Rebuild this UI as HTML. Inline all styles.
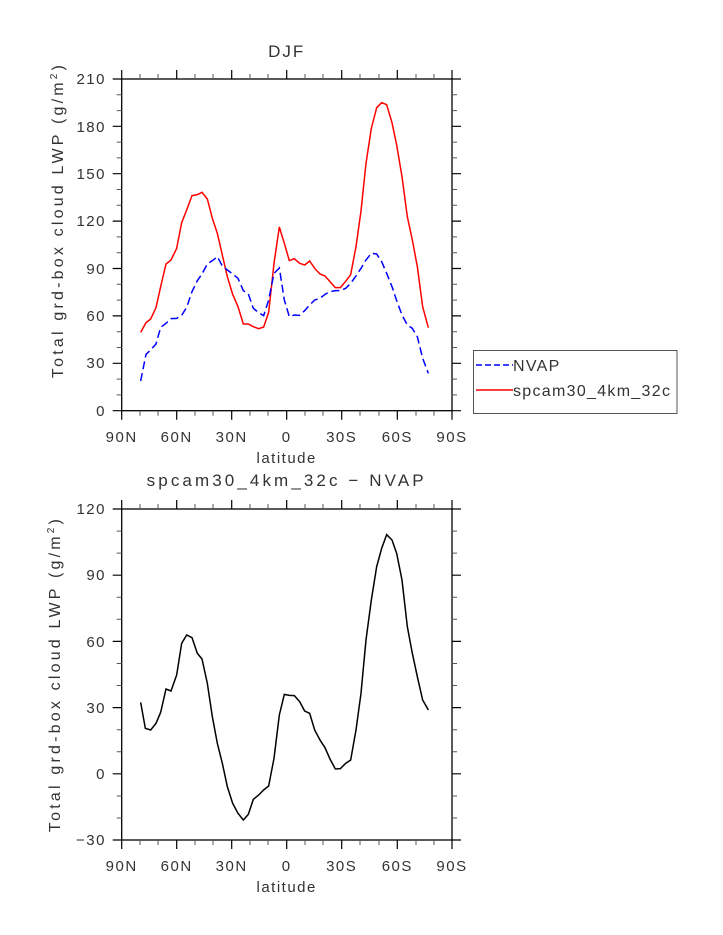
<!DOCTYPE html>
<html><head><style>
body{margin:0;background:#fff;}
svg{display:block;font-family:"Liberation Sans",sans-serif;}
text{fill:#333;font-size:15px;letter-spacing:1.5px;}
</style></head><body>
<svg width="723" height="935" viewBox="0 0 723 935">
<rect x="121.7" y="79" width="330.3" height="331.7" fill="none" stroke="#000" stroke-width="1.3"/>
<g stroke="#000" stroke-width="1.2">
<path d="M121.7 410.7v9M176.7 410.7v9M231.7 410.7v9M286.7 410.7v9M341.7 410.7v9M397.3 410.7v9M452 410.7v9
M121.7 79v-9M176.7 79v-9M231.7 79v-9M286.7 79v-9M341.7 79v-9M397.3 79v-9M452 79v-9"/>
<path d="M121.7 410.7h-9M121.7 363.3h-9M121.7 315.9h-9M121.7 268.5h-9M121.7 221.1h-9M121.7 173.7h-9M121.7 126.3h-9M121.7 79h-9
M452 410.7h9M452 363.3h9M452 315.9h9M452 268.5h9M452 221.1h9M452 173.7h9M452 126.3h9M452 79h9"/>
</g>
<g stroke="#555" stroke-width="1">
<path d="M140 410.7v5M158 410.7v5M195 410.7v5M213 410.7v5M250 410.7v5M268 410.7v5M305 410.7v5M323 410.7v5M360 410.7v5M379 410.7v5M416 410.7v5M434 410.7v5
M140 79v-5M158 79v-5M195 79v-5M213 79v-5M250 79v-5M268 79v-5M305 79v-5M323 79v-5M360 79v-5M379 79v-5M416 79v-5M434 79v-5"/>
<path d="M121.7 394.9h-5M121.7 379.1h-5M121.7 347.5h-5M121.7 331.7h-5M121.7 300.1h-5M121.7 284.3h-5M121.7 252.7h-5M121.7 236.9h-5M121.7 205.3h-5M121.7 189.5h-5M121.7 157.9h-5M121.7 142.1h-5M121.7 110.6h-5M121.7 94.8h-5
M452 394.9h5M452 379.1h5M452 347.5h5M452 331.7h5M452 300.1h5M452 284.3h5M452 252.7h5M452 236.9h5M452 205.3h5M452 189.5h5M452 157.9h5M452 142.1h5M452 110.6h5M452 94.8h5"/>
</g>
<g text-anchor="end">
<text x="106" y="416">0</text><text x="106" y="368">30</text><text x="106" y="321">60</text><text x="106" y="274">90</text>
<text x="106" y="226">120</text><text x="106" y="179">150</text><text x="106" y="132">180</text><text x="106" y="84">210</text>
</g>
<g text-anchor="middle">
<text x="121.7" y="442">90N</text><text x="176.7" y="442">60N</text><text x="231.7" y="442">30N</text><text x="286.7" y="442">0</text>
<text x="341.7" y="442">30S</text><text x="397.3" y="442">60S</text><text x="452" y="442">90S</text>
<text x="286.7" y="463">latitude</text>
<text x="286.7" y="57" style="font-size:17px;letter-spacing:2px">DJF</text>
<text transform="translate(63,220) rotate(-90)" style="font-size:16px;letter-spacing:3.2px">Total grd-box cloud LWP (g/m<tspan dy="-6" style="font-size:10px">2</tspan><tspan dy="6">)</tspan></text>
</g>
<g transform="translate(110,70) scale(0.33333)" fill="none" stroke-width="4.5">
<polyline stroke="#ff0000" points="92,787 108,758 122,747 138,713 152,650 168,582 183,570 200,535 215,458 230,420 246,377 262,374 276,367 292,387 307,445 322,490 337,555 352,620 368,673 384,710 400,762 415,762 430,770 446,776 461,771 476,727 492,580 508,471 523,520 538,572 553,566 569,580 584,585 599,573 614,595 630,612 645,618 660,635 676,653 691,653 707,634 722,614 738,530 753,423 768,280 784,175 800,113 815,98 830,104 846,158 860,225 876,320 892,440 907,510 922,590 938,710 955,773"/>
<polyline stroke="#0000ff" stroke-dasharray="24,12" points="92,933 108,853 122,840 138,822 152,772 168,760 183,746 200,745 215,736 230,712 246,665 262,632 276,612 292,582 307,572 322,560 337,588 352,600 368,612 384,625 400,662 415,672 430,715 446,728 461,737 476,690 492,610 508,594 523,690 538,740 553,735 569,736 584,722 599,705 614,690 630,685 645,673 660,665 676,662 691,662 707,655 722,640 738,618 753,595 768,570 784,550 800,552 815,575 830,610 846,650 860,692 876,735 892,765 907,775 922,800 938,865 955,910"/>
</g>
<rect x="473.5" y="350.5" width="203.5" height="63" fill="none" stroke="#555" stroke-width="1"/>
<line x1="476" y1="365" x2="513" y2="365" stroke="#0000ff" stroke-width="1.5" stroke-dasharray="6,3"/>
<line x1="476" y1="390" x2="513" y2="390" stroke="#ff0000" stroke-width="1.5"/>
<text x="513" y="371" style="font-size:16px;letter-spacing:1.3px">NVAP</text>
<text x="513" y="396" style="font-size:16px;letter-spacing:1.3px">spcam30_4km_32c</text>

<rect x="121.7" y="509" width="330.3" height="331" fill="none" stroke="#000" stroke-width="1.3"/>
<g stroke="#000" stroke-width="1.2">
<path d="M121.7 840v9M176.7 840v9M231.7 840v9M286.7 840v9M341.7 840v9M397.3 840v9M452 840v9
M121.7 509v-9M176.7 509v-9M231.7 509v-9M286.7 509v-9M341.7 509v-9M397.3 509v-9M452 509v-9"/>
<path d="M121.7 840h-9M121.7 773.8h-9M121.7 707.6h-9M121.7 641.4h-9M121.7 575.2h-9M121.7 509h-9
M452 840h9M452 773.8h9M452 707.6h9M452 641.4h9M452 575.2h9M452 509h9"/>
</g>
<g stroke="#555" stroke-width="1">
<path d="M140 840v5M158 840v5M195 840v5M213 840v5M250 840v5M268 840v5M305 840v5M323 840v5M360 840v5M379 840v5M416 840v5M434 840v5
M140 509v-5M158 509v-5M195 509v-5M213 509v-5M250 509v-5M268 509v-5M305 509v-5M323 509v-5M360 509v-5M379 509v-5M416 509v-5M434 509v-5"/>
<path d="M121.7 818h-5M121.7 796h-5M121.7 751.7h-5M121.7 729.7h-5M121.7 685.5h-5M121.7 663.5h-5M121.7 619.3h-5M121.7 597.3h-5M121.7 553.1h-5M121.7 531.1h-5
M452 818h5M452 796h5M452 751.7h5M452 729.7h5M452 685.5h5M452 663.5h5M452 619.3h5M452 597.3h5M452 553.1h5M452 531.1h5"/>
</g>
<g text-anchor="end">
<text x="106" y="845">−30</text><text x="106" y="779">0</text><text x="106" y="713">30</text><text x="106" y="647">60</text>
<text x="106" y="580">90</text><text x="106" y="514">120</text>
</g>
<g text-anchor="middle">
<text x="121.7" y="871">90N</text><text x="176.7" y="871">60N</text><text x="231.7" y="871">30N</text><text x="286.7" y="871">0</text>
<text x="341.7" y="871">30S</text><text x="397.3" y="871">60S</text><text x="452" y="871">90S</text>
<text x="286.7" y="892">latitude</text>
<text x="286.7" y="486" style="font-size:17px;letter-spacing:3.1px">spcam30_4km_32c − NVAP</text>
<text transform="translate(60,674) rotate(-90)" style="font-size:16px;letter-spacing:3.2px">Total grd-box cloud LWP (g/m<tspan dy="-6" style="font-size:10px">2</tspan><tspan dy="6">)</tspan></text>
</g>
<g transform="translate(110,500) scale(0.33333)" fill="none" stroke-width="4.5">
<polyline stroke="#000" points="92,607 106,685 122,690 138,670 152,637 168,567 183,573 200,525 215,430 230,405 246,413 262,460 276,477 292,550 307,650 322,730 337,790 352,860 368,910 384,940 400,960 415,943 430,898 446,885 461,870 476,858 492,775 508,645 523,583 538,586 553,587 569,605 584,633 599,640 614,690 630,720 645,743 660,777 676,807 691,806 707,790 722,780 738,690 753,580 768,420 784,300 800,200 815,145 830,104 846,120 860,160 876,240 892,380 907,460 922,530 938,600 955,630"/>
</g>
</svg>
</body></html>
